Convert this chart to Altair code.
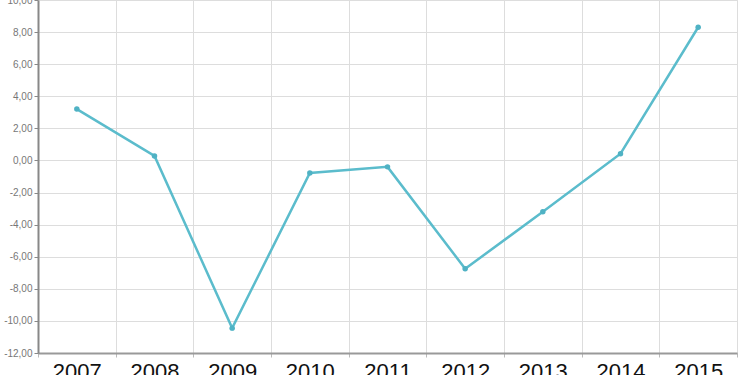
import altair as alt
import pandas as pd

years = ["2007", "2008", "2009", "2010", "2011", "2012", "2013", "2014", "2015"]
values = [3.2, 0.28, -10.45, -0.78, -0.4, -6.75, -3.2, 0.42, 8.3]

df = pd.DataFrame({"year": years, "value": values})

x = alt.X("year:N", sort=years, title=None,
          scale=alt.Scale(paddingInner=0, paddingOuter=0),
          axis=alt.Axis(labelAngle=0, labelFont="Liberation Sans", labelFontSize=22,
                        labelColor="#111", tickBand="extent", grid=True,
                        gridColor="#dddddd", domainColor="#999999", domainWidth=2,
                        tickColor="#bbbbbb", tickSize=4, labelPadding=4))
y = alt.Y("value:Q", title=None,
          scale=alt.Scale(domain=[-12, 10], nice=False),
          axis=alt.Axis(values=list(range(-12, 11, 2)), gridColor="#dddddd",
                        domainColor="#888888", domainWidth=2, tickColor="#888888",
                        tickSize=4, labelColor="#777777", labelFontSize=10,
                        labelFont="Liberation Sans", labelPadding=2,
                        labelExpr="(datum.value < 0 ? '-' : '') + replace(format(abs(datum.value), '.2f'), '.', ',')"))

line = alt.Chart(df).mark_line(color="#5bbccc", strokeWidth=2.5).encode(x=x, y=y)
pts = alt.Chart(df).mark_point(filled=True, color="#4fb2c4", size=30, opacity=1).encode(x=x, y=y)

chart = (line + pts).properties(
    width=699, height=353,
    autosize=alt.AutoSizeParams(type="none"),
    padding={"left": 38, "top": 0, "right": 13, "bottom": 22},
).configure_view(stroke="#aaaaaa", strokeWidth=2).configure(background="white")

chart.save("out.html", embed_options={"renderer": "svg", "actions": False})
